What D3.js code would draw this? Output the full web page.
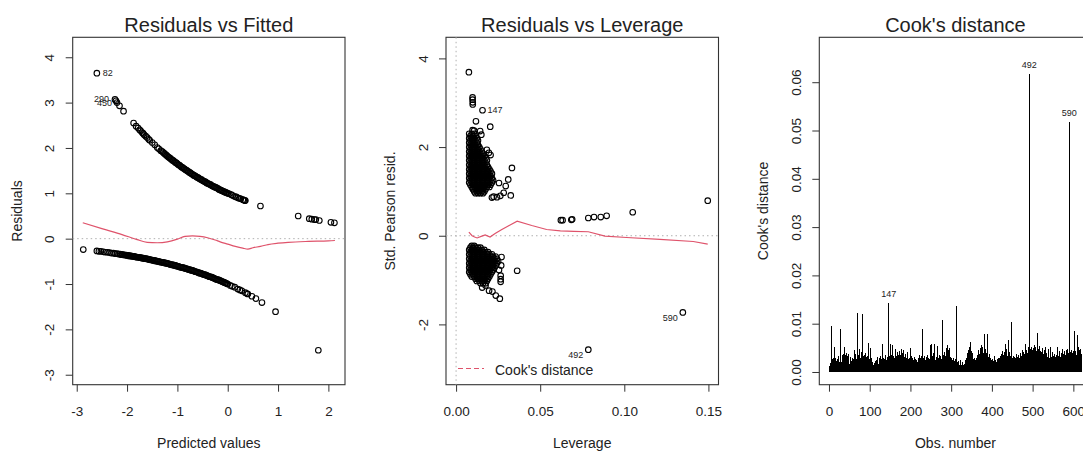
<!DOCTYPE html>
<html><head><meta charset="utf-8">
<script src="https://cdn.jsdelivr.net/npm/d3@7"></script>
<style>
body{margin:0;background:#fff;}
svg text{font-family:"Liberation Sans",Arial,Helvetica,sans-serif;fill:#222;}
</style></head><body>
<svg id="chart" width="1083" height="451"></svg>
<script>
// ---------------- Panel 1: Residuals vs Fitted ----------------
// observations with y = 1 (upper branch)
const fitHigh = [-2.60,-2.24,-2.22,-2.20,-2.15,-2.07,-1.87,-1.82,-1.78,-1.75,-1.73,-1.70,-1.68,-1.66,-1.63,-1.60,-1.57,-1.55,-1.50,-1.45,-1.40,-1.37,-1.33,-1.30,
-1.28,-1.26,-1.24,-1.22,-1.20,-1.18,-1.16,-1.14,-1.12,-1.10,-1.08,-1.06,-1.04,-1.02,-1.00,-0.98,-0.96,-0.94,-0.92,-0.90,-0.88,-0.86,-0.84,-0.82,-0.80,-0.78,-0.76,-0.74,-0.72,-0.70,-0.68,-0.66,-0.64,-0.62,-0.60,-0.58,-0.56,-0.54,-0.52,-0.50,-0.48,-0.46,-0.44,-0.42,-0.40,-0.38,-0.36,-0.34,-0.32,-0.30,-0.28,-0.26,-0.24,-0.22,-0.20,-0.18,-0.16,-0.14,-0.12,-0.10,-0.08,-0.06,-0.04,-0.02,0.00,
0.03,0.07,0.10,0.14,0.17,0.20,0.23,0.26,0.30,0.32,0.34,0.35,0.65,1.40,1.62,1.67,1.72,1.75,1.82,2.05,2.12];
const resHigh = [3.65,3.07,3.04,3.00,2.93,2.81,2.55,2.48,2.44,2.40,2.38,2.34,2.32,2.29,2.26,2.23,2.19,2.17,2.12,2.07,2.01,1.98,1.94,1.92,
1.90,1.88,1.86,1.84,1.82,1.80,1.79,1.77,1.75,1.73,1.72,1.70,1.68,1.67,1.65,1.63,1.62,1.60,1.58,1.57,1.55,1.54,1.52,1.51,1.49,1.48,1.46,1.45,1.43,1.42,1.40,1.39,1.38,1.36,1.35,1.34,1.32,1.31,1.30,1.28,1.27,1.26,1.25,1.23,1.22,1.21,1.20,1.19,1.17,1.16,1.15,1.14,1.13,1.12,1.11,1.09,1.08,1.07,1.06,1.05,1.04,1.03,1.02,1.01,1.00,
0.99,0.97,0.95,0.93,0.92,0.90,0.89,0.88,0.86,0.85,0.84,0.84,0.72,0.50,0.44,0.43,0.42,0.42,0.40,0.36,0.35];
// observations with y = 0 (lower branch)
const fitLow = [-2.87,-2.60,-2.56,-2.52,-2.47,-2.43,-2.39,-2.35,-2.31,-2.27,-2.24,-2.20,-2.17,
-2.14,-2.12,-2.10,-2.08,-2.06,-2.04,-2.02,-2.00,-1.98,-1.96,
-1.94,-1.92,-1.90,-1.88,-1.86,-1.84,-1.82,-1.80,-1.78,-1.76,
-1.74,-1.72,-1.70,-1.68,-1.66,-1.64,-1.62,-1.60,-1.58,-1.56,
-1.54,-1.52,-1.50,-1.48,-1.46,-1.44,-1.42,-1.40,-1.38,-1.36,
-1.34,-1.32,-1.30,-1.28,-1.26,-1.24,-1.22,-1.20,-1.18,-1.16,
-1.14,-1.12,-1.10,-1.08,-1.06,-1.04,-1.02,-1.00,-0.98,-0.96,
-0.94,-0.92,-0.90,-0.88,-0.86,-0.84,-0.82,-0.80,-0.78,-0.76,
-0.74,-0.72,-0.70,-0.68,-0.66,-0.64,-0.62,-0.60,-0.58,-0.56,
-0.54,-0.52,-0.50,-0.48,-0.46,-0.44,-0.42,-0.40,-0.38,-0.36,
-0.34,-0.32,-0.30,-0.28,-0.26,-0.24,-0.22,-0.20,-0.18,-0.16,
-0.14,-0.12,-0.10,-0.08,-0.06,-0.04,-0.02,0.00,
0.05,0.09,0.14,0.20,0.24,0.28,0.35,0.38,0.40,0.48,0.56,0.68,0.95,1.80];
const resLow = [-0.24,-0.27,-0.28,-0.28,-0.29,-0.30,-0.30,-0.31,-0.32,-0.32,-0.33,-0.33,-0.34,
-0.34,-0.35,-0.35,-0.35,-0.36,-0.36,-0.36,-0.37,-0.37,-0.38,
-0.38,-0.38,-0.39,-0.39,-0.39,-0.40,-0.40,-0.41,-0.41,-0.41,
-0.42,-0.42,-0.43,-0.43,-0.44,-0.44,-0.44,-0.45,-0.45,-0.46,
-0.46,-0.47,-0.47,-0.48,-0.48,-0.49,-0.49,-0.50,-0.50,-0.51,
-0.51,-0.52,-0.52,-0.53,-0.53,-0.54,-0.54,-0.55,-0.55,-0.56,
-0.57,-0.57,-0.58,-0.58,-0.59,-0.59,-0.60,-0.61,-0.61,-0.62,
-0.63,-0.63,-0.64,-0.64,-0.65,-0.66,-0.66,-0.67,-0.68,-0.68,
-0.69,-0.70,-0.70,-0.71,-0.72,-0.73,-0.73,-0.74,-0.75,-0.76,
-0.76,-0.77,-0.78,-0.79,-0.79,-0.80,-0.81,-0.82,-0.83,-0.84,
-0.84,-0.85,-0.86,-0.87,-0.88,-0.89,-0.90,-0.90,-0.91,-0.92,
-0.93,-0.94,-0.95,-0.96,-0.97,-0.98,-0.99,-1.00,
-1.03,-1.05,-1.07,-1.11,-1.13,-1.15,-1.19,-1.21,-1.22,-1.27,-1.32,-1.41,-1.61,-2.46];
// smoother (red)
const smoothFitX = [-2.88,-2.50,-2.10,-1.80,-1.60,-1.40,-1.20,-1.00,-0.85,-0.70,-0.55,-0.40,-0.25,-0.15,0.00,0.15,0.30,0.40,0.50,0.65,0.80,1.00,1.20,1.60,2.00,2.13];
const smoothFitY = [0.35,0.22,0.09,-0.02,-0.08,-0.09,-0.07,-0.01,0.05,0.06,0.05,0.02,-0.03,-0.07,-0.12,-0.17,-0.21,-0.23,-0.20,-0.17,-0.13,-0.10,-0.08,-0.06,-0.05,-0.04];
const p1Labels = [{t:"82",x:-2.60,y:3.65,dx:6,dy:0,a:"start"},{t:"290",x:-2.22,y:3.04,dx:-7,dy:-2,a:"end"},{t:"450",x:-2.22,y:3.04,dx:-4,dy:2,a:"end"}];
const p1XTicks = [-3,-2,-1,0,1,2];
const p1YTicks = [-3,-2,-1,0,1,2,3,4];

// ---------------- Panel 2: Residuals vs Leverage ----------------
const upperBlobResid = [2.30,2.25,2.20,2.15,2.10,2.05,2.00,1.95,1.90,1.85,1.80,1.75,1.70,1.65,1.60,1.55,1.50,1.45,1.40,1.35,1.30,1.25,1.20,1.15,1.10,1.05,1.00,0.96];
const upperBlobLev = [
[.0078,.0093,.0108],
[.0085,.0100,.0115],
[.0078,.0093,.0108,.0123],
[.0085,.0100,.0115,.0130],
[.0078,.0093,.0108,.0123],
[.0085,.0100,.0115,.0130],
[.0078,.0093,.0108,.0123,.0138],
[.0085,.0100,.0115,.0130,.0145],
[.0078,.0093,.0108,.0123,.0138,.0153],
[.0085,.0100,.0115,.0130,.0145,.0160],
[.0078,.0093,.0108,.0123,.0138,.0153,.0168],
[.0085,.0100,.0115,.0130,.0145,.0160,.0175],
[.0078,.0093,.0108,.0123,.0138,.0153,.0168,.0183],
[.0085,.0100,.0115,.0130,.0145,.0160,.0175],
[.0078,.0093,.0108,.0123,.0138,.0153,.0168,.0183],
[.0085,.0100,.0115,.0130,.0145,.0160,.0175,.0190],
[.0078,.0093,.0108,.0123,.0138,.0153,.0168,.0183,.0198],
[.0085,.0100,.0115,.0130,.0145,.0160,.0175,.0190,.0205],
[.0078,.0093,.0108,.0123,.0138,.0153,.0168,.0183,.0198,.0213],
[.0085,.0100,.0115,.0130,.0145,.0160,.0175,.0190,.0205],
[.0078,.0093,.0108,.0123,.0138,.0153,.0168,.0183,.0198,.0213],
[.0085,.0100,.0115,.0130,.0145,.0160,.0175,.0190,.0205,.0220],
[.0078,.0093,.0108,.0123,.0138,.0153,.0168,.0183,.0198,.0213],
[.0085,.0100,.0115,.0130,.0145,.0160,.0175,.0190,.0205],
[.0093,.0108,.0123,.0138,.0153,.0168,.0183,.0198],
[.0100,.0115,.0130,.0145,.0160,.0175],
[.0108,.0123,.0138,.0153,.0168],
[.0115,.0130,.0145,.0160]];
const lowerBlobResid = [-0.23,-0.27,-0.32,-0.37,-0.42,-0.47,-0.52,-0.57,-0.62,-0.67,-0.72,-0.77,-0.82,-0.87,-0.92,-0.97,-1.02,-1.07];
const lowerBlobLev = [
[.0093,.0108],
[.0085,.0100,.0115,.0130,.0145],
[.0078,.0093,.0108,.0123,.0138,.0153,.0168],
[.0085,.0100,.0115,.0130,.0145,.0160,.0175,.0190],
[.0078,.0093,.0108,.0123,.0138,.0153,.0168,.0183,.0198,.0213],
[.0085,.0100,.0115,.0130,.0145,.0160,.0175,.0190,.0205,.0220,.0235],
[.0078,.0093,.0108,.0123,.0138,.0153,.0168,.0183,.0198,.0213,.0228,.0243],
[.0085,.0100,.0115,.0130,.0145,.0160,.0175,.0190,.0205,.0220,.0235,.0250],
[.0078,.0093,.0108,.0123,.0138,.0153,.0168,.0183,.0198,.0213,.0228,.0243],
[.0085,.0100,.0115,.0130,.0145,.0160,.0175,.0190,.0205,.0220,.0235],
[.0078,.0093,.0108,.0123,.0138,.0153,.0168,.0183,.0198,.0213,.0228],
[.0085,.0100,.0115,.0130,.0145,.0160,.0175,.0190,.0205,.0220],
[.0078,.0093,.0108,.0123,.0138,.0153,.0168,.0183,.0198,.0213],
[.0085,.0100,.0115,.0130,.0145,.0160,.0175,.0190,.0205],
[.0093,.0108,.0123,.0138,.0153,.0168,.0183,.0198],
[.0115,.0130,.0145,.0160,.0175,.0190],
[.0123,.0138,.0153,.0168,.0183],
[.0145,.0160,.0175]];
// scattered points [leverage, std. Pearson residual]
const levOutliers = [[.0076,3.69],[.0098,3.12],[.0098,3.07],[.0099,3.01],[.0099,2.96],[.0157,2.83],[.0118,2.58],[.0203,2.46],[.0098,2.38],[.0107,2.37],[.0143,2.36],[.0150,2.28],
[.0183,1.94],[.0195,1.87],[.0205,1.82],[.0332,1.53],[.0310,1.27],[.0295,1.12],[.0255,1.19],[.0325,0.91],[.0283,0.97],[.0263,0.90],[.0243,0.87],[.0223,0.88],[.0213,0.86],
[.0623,0.35],[.0633,0.35],[.0685,0.36],[.0690,0.37],[.0786,0.40],[.0820,0.42],[.0860,0.42],[.0895,0.45],[.1050,0.53],[.1496,0.79],[.1348,-1.73],[.0786,-2.57],
[.0155,-1.17],[.0175,-1.12],[.0196,-1.24],[.0216,-1.26],[.0236,-1.35],[.0260,-1.42],[.0363,-0.79],[.0270,-0.48],[.0268,-0.67],[.0265,-0.90],[.0265,-0.98],[.0265,-1.04],[.0255,-0.77]];
const smoothLevX = [.0076,.0095,.0110,.0125,.0153,.0173,.0202,.0232,.0272,.0310,.0363,.0450,.0538,.0620,.0700,.0786,.0885,.1014,.1212,.1410,.1496];
const smoothLevY = [0.08,0.00,-0.03,-0.05,-0.01,0.02,-0.03,0.05,0.14,0.22,0.33,0.23,0.14,0.11,0.10,0.09,-0.01,-0.04,-0.08,-0.13,-0.19];
const p2Labels = [{t:"147",x:.0157,y:2.83,dx:5,dy:0,a:"start"},{t:"590",x:.1348,y:-1.73,dx:-5,dy:5,a:"end"},{t:"492",x:.0786,y:-2.57,dx:-5,dy:5,a:"end"}];
const p2XTicks = [0,0.05,0.10,0.15];
const p2YTicks = [-2,0,2,4];

// ---------------- Panel 3: Cook's distance (×10^-4), obs 1..620 ----------------
const cookE4 = [
4,12,18,9,96,22,15,26,19,11,28,24,17,52,21,14,30,23,16,27,
12,25,33,18,9,21,15,26,88,20,13,35,24,17,38,22,14,29,52,19,
36,25,40,18,27,33,12,21,38,16,8,24,19,31,6,22,28,14,26,11,
20,45,17,29,23,38,15,27,123,32,44,21,35,26,48,19,30,24,41,14,
28,36,120,22,33,17,35,25,39,18,27,31,15,34,24,21,29,60,26,12,
23,19,49,14,30,17,9,21,15,11,18,7,22,16,13,25,10,19,14,32,
17,12,28,21,9,33,18,14,26,20,57,16,24,30,19,27,22,15,35,13,
25,18,31,21,28,16,143,24,33,19,58,27,36,22,55,29,41,17,34,26,
30,22,38,48,25,33,19,42,28,36,21,31,26,44,18,35,48,23,29,40,
20,34,27,46,24,31,19,38,22,29,16,35,25,42,21,27,30,18,49,23,
26,15,33,20,28,12,24,19,31,16,22,14,27,18,10,25,17,21,13,29,
19,24,35,16,28,21,33,18,26,90,22,30,17,27,34,20,25,15,31,23,
28,19,35,24,30,17,26,22,38,55,29,58,21,33,25,40,27,57,18,31,
24,20,32,16,27,53,22,30,18,25,35,21,28,14,33,26,19,31,108,23,
29,36,22,41,27,33,25,50,30,55,26,38,21,46,28,50,24,32,19,27,
22,30,17,25,20,28,15,23,18,26,21,136,19,24,13,20,16,11,22,14,
9,18,12,25,8,15,11,20,7,14,10,17,12,21,16,24,19,30,26,35,
40,33,45,38,52,42,62,46,37,44,31,39,28,22,17,26,20,29,15,24,
21,30,18,27,35,24,32,45,28,38,26,50,41,55,36,47,30,52,39,33,
44,79,36,48,29,40,34,27,46,79,31,25,38,22,18,28,15,24,11,20,
17,26,13,22,16,33,19,12,25,18,9,21,15,27,19,30,14,23,28,20,
33,25,38,29,44,31,22,36,27,41,35,24,58,30,39,26,47,33,28,67,
36,42,29,38,24,33,27,35,103,30,22,28,19,34,25,31,21,29,26,37,
24,32,20,28,35,23,30,18,27,39,25,33,21,45,29,36,26,42,31,24,
38,30,57,35,46,28,40,33,52,37,44,617,31,48,36,42,29,51,38,45,
34,49,40,55,32,46,38,52,43,36,62,81,41,47,35,53,39,30,44,37,
28,42,33,50,26,38,31,45,24,36,52,29,40,27,34,22,31,48,25,35,
30,23,37,27,52,32,20,29,41,25,34,18,28,38,22,31,26,35,21,30,
27,52,33,24,44,29,37,21,31,40,26,35,23,47,30,38,28,34,43,25,
36,29,45,32,27,48,33,39,24,518,30,42,35,28,46,31,38,26,40,34,
44,85,37,50,31,43,36,28,48,77,39,52,33,45,29,40,35,47,30,38];
const p3Labels = [{t:"147",obs:147},{t:"492",obs:492},{t:"590",obs:590}];
const p3XTicks = [0,100,200,300,400,500,600];
const p3YTicks = [0,0.01,0.02,0.03,0.04,0.05,0.06];

// ---------------- drawing ----------------
const svg = d3.select("#chart");
svg.append("rect").attr("width",1083).attr("height",451).attr("fill","#fff");
const RED = "#DF536B", BOX = "#333", TICKFS = 13.5, R = 2.8;

function frame(box, xs, ys, xTicks, xFmt, yTicks, yFmt, title, xlab, ylab) {
  const g = svg.append("g");
  const xa = g.append("g").attr("transform",`translate(0,${box.y1})`)
    .call(d3.axisBottom(xs).tickValues(xTicks).tickFormat(xFmt).tickSize(7).tickSizeOuter(0));
  xa.select(".domain").remove();
  xa.selectAll("line").attr("stroke",BOX);
  xa.selectAll("text").attr("y",27).attr("dy","0.35em").style("font-size",TICKFS+"px").attr("fill","#222");
  const ya = g.append("g").attr("transform",`translate(${box.x0},0)`)
    .call(d3.axisLeft(ys).tickValues(yTicks).tickFormat(yFmt).tickSize(7).tickSizeOuter(0));
  ya.select(".domain").remove();
  ya.selectAll("line").attr("stroke",BOX);
  ya.selectAll("text").attr("transform","rotate(-90)").attr("x",0).attr("y",-23).attr("dy","0.35em")
    .attr("text-anchor","middle").style("font-size",TICKFS+"px").attr("fill","#222");
  g.append("rect").attr("x",box.x0).attr("y",box.y0).attr("width",box.x1-box.x0).attr("height",box.y1-box.y0)
    .attr("fill","none").attr("stroke",BOX).attr("stroke-width",1.1);
  const cx = (box.x0+box.x1)/2;
  g.append("text").attr("x",cx).attr("y",32).attr("text-anchor","middle").style("font-size","20px").text(title);
  g.append("text").attr("x",cx).attr("y",443).attr("dy","0.35em").attr("text-anchor","middle").style("font-size","14px").text(xlab);
  g.append("text").attr("transform",`translate(${box.x0-56},${(box.y0+box.y1)/2}) rotate(-90)`)
    .attr("dy","0.35em").attr("text-anchor","middle").style("font-size","14px").text(ylab);
  return g;
}
function dotted(g, x1,y1,x2,y2){
  g.append("line").attr("x1",x1).attr("y1",y1).attr("x2",x2).attr("y2",y2)
   .attr("stroke","#b0b0b0").attr("stroke-width",1).attr("stroke-dasharray","1.5,3");
}
function circles(g, pts, xs, ys){
  g.append("g").selectAll("circle").data(pts).join("circle")
   .attr("cx",d=>xs(d[0])).attr("cy",d=>ys(d[1])).attr("r",R)
   .attr("fill","none").attr("stroke","#000").attr("stroke-width",1.1);
}

// Panel 1
const b1 = {x0:72.7,x1:345,y0:37.3,y1:384.7};
const x1s = d3.scaleLinear().domain([-3.08,2.33]).range([b1.x0,b1.x1]);
const y1s = d3.scaleLinear().domain([-3.22,4.44]).range([b1.y1,b1.y0]);
const g1 = frame(b1,x1s,y1s,p1XTicks,d=>String(d),p1YTicks,d=>String(d),"Residuals vs Fitted","Predicted values","Residuals");
dotted(g1,b1.x0,y1s(0),b1.x1,y1s(0));
const pts1 = fitHigh.map((x,i)=>[x,resHigh[i]]).concat(fitLow.map((x,i)=>[x,resLow[i]]));
circles(g1,pts1,x1s,y1s);
g1.append("path").datum(smoothFitX.map((x,i)=>[x,smoothFitY[i]]))
  .attr("d",d3.line().x(d=>x1s(d[0])).y(d=>y1s(d[1])).curve(d3.curveMonotoneX))
  .attr("fill","none").attr("stroke",RED).attr("stroke-width",1.2);
g1.selectAll(".lab").data(p1Labels).join("text").attr("class","lab")
  .attr("x",d=>x1s(d.x)+d.dx).attr("y",d=>y1s(d.y)+d.dy).attr("dy","0.35em")
  .attr("text-anchor",d=>d.a).style("font-size","9px").attr("fill","#555").text(d=>d.t);

// Panel 2
const b2 = {x0:446,x1:718.5,y0:37.3,y1:384.7};
const x2s = d3.scaleLinear().domain([-0.006,0.156]).range([b2.x0,b2.x1]);
const y2s = d3.scaleLinear().domain([-3.36,4.476]).range([b2.y1,b2.y0]);
const g2 = frame(b2,x2s,y2s,p2XTicks,d=>d.toFixed(2),p2YTicks,d=>String(d),"Residuals vs Leverage","Leverage","Std. Pearson resid.");
dotted(g2,b2.x0,y2s(0),b2.x1,y2s(0));
dotted(g2,x2s(0),b2.y0,x2s(0),b2.y1);
const pts2 = [];
upperBlobResid.forEach((r,i)=>upperBlobLev[i].forEach(l=>pts2.push([l,r])));
lowerBlobResid.forEach((r,i)=>lowerBlobLev[i].forEach(l=>pts2.push([l,r])));
levOutliers.forEach(p=>pts2.push(p));
circles(g2,pts2,x2s,y2s);
g2.append("path").datum(smoothLevX.map((x,i)=>[x,smoothLevY[i]]))
  .attr("d",d3.line().x(d=>x2s(d[0])).y(d=>y2s(d[1])))
  .attr("fill","none").attr("stroke",RED).attr("stroke-width",1.2);
g2.selectAll(".lab").data(p2Labels).join("text").attr("class","lab")
  .attr("x",d=>x2s(d.x)+d.dx).attr("y",d=>y2s(d.y)+d.dy).attr("dy","0.35em")
  .attr("text-anchor",d=>d.a).style("font-size","9px").attr("fill","#555").text(d=>d.t);
// legend
g2.append("line").attr("x1",458).attr("x2",484).attr("y1",368.5).attr("y2",368.5)
  .attr("stroke",RED).attr("stroke-width",1.2).attr("stroke-dasharray","5,3");
g2.append("text").attr("x",495).attr("y",370).attr("dy","0.35em").style("font-size","14px").text("Cook's distance");

// Panel 3
const b3 = {x0:819.3,x1:1091.6,y0:37.3,y1:384.7};
const x3s = d3.scaleLinear().domain([-23.76,644.8]).range([b3.x0,b3.x1]);
const y3s = d3.scaleLinear().domain([-0.00263,0.0693]).range([b3.y1,b3.y0]);
const g3 = frame(b3,x3s,y3s,p3XTicks,d=>String(d),p3YTicks,d=>d.toFixed(2),"Cook's distance","Obs. number","Cook's distance");
g3.append("g").attr("shape-rendering","crispEdges").selectAll("line").data(cookE4).join("line")
  .attr("x1",(d,i)=>x3s(i+1)).attr("x2",(d,i)=>x3s(i+1))
  .attr("y1",y3s(0)).attr("y2",d=>y3s(d/10000))
  .attr("stroke","#000").attr("stroke-width",1);
g3.selectAll(".lab").data(p3Labels).join("text").attr("class","lab")
  .attr("x",d=>x3s(d.obs)).attr("y",d=>y3s(cookE4[d.obs-1]/10000)-9).attr("dy","0.35em")
  .attr("text-anchor","middle").style("font-size","9px").attr("fill","#555").text(d=>d.t);
</script>
</body></html>
